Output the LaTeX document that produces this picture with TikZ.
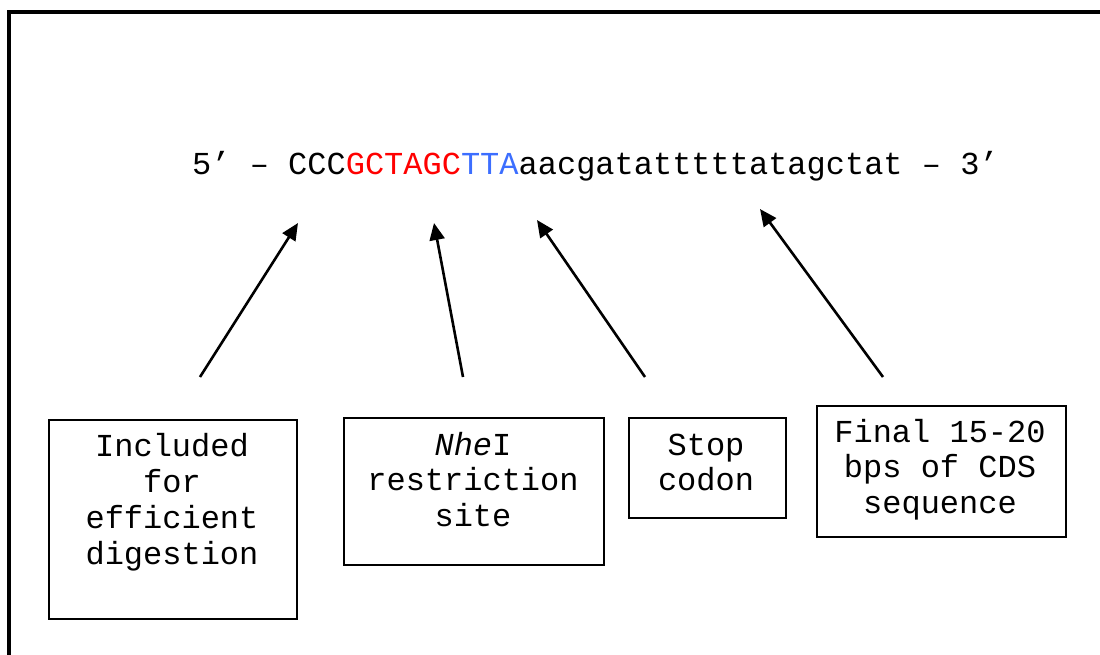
\documentclass[tikz,border=0pt]{standalone}
\usepackage{fontspec}
\setmonofont{Liberation Mono}
\usetikzlibrary{arrows.meta}
\definecolor{seqred}{RGB}{255,0,0}
\definecolor{seqblue}{RGB}{60,110,255}
\tikzset{
  box/.style={draw=black, line width=2pt, rectangle, anchor=north west, inner sep=0pt},
  lbl/.style={font=\ttfamily\fontsize{32}{35.7}\selectfont, align=center, inner sep=0pt, anchor=base},
  seq/.style={font=\ttfamily\fontsize{32}{36}\selectfont, inner sep=0pt, anchor=base west},
  arr/.style={line width=2.6pt, -{Triangle[length=17pt,width=15pt]}},
  frame/.style={line width=4pt}
}
\begin{document}
\begin{tikzpicture}[x=1pt,y=-1pt]
\useasboundingbox (0,0) rectangle (1100,655);
% frame
\coordinate (fa) at (8.5,655);
\coordinate (fb) at (8.5,12.5);
\coordinate (fc) at (1100,12.5);
\draw[frame] (fa) -- (fb) -- (fc);
% sequence
\node[seq] (seq) at (192,175) {5’ – CCC\textcolor{seqred}{GCTAGC}\textcolor{seqblue}{TTA}aacgatatttttatagctat – 3’};
% boxes
\node[box, minimum width=248pt, minimum height=199pt] (b1) at (48,419) {};
\node[box, minimum width=260pt, minimum height=147pt] (b2) at (343,417) {};
\node[box, minimum width=157pt, minimum height=100pt] (b3) at (628,417) {};
\node[box, minimum width=249pt, minimum height=131pt] (b4) at (816,405) {};
% labels (anchored at the baseline of their last line)
\node[lbl] (t1) at (172,564) {Included\\for\\efficient\\digestion};
\node[lbl] (t2) at (473,526.4) {\textit{Nhe}I\\restriction\\site};
\node[lbl] (t3) at (706,490.7) {Stop\\codon};
\node[lbl] (t4) at (940,513.4) {Final 15-20\\bps of CDS\\sequence};
% arrows
\coordinate (s1) at (200,377); \coordinate (e1) at (298,223);
\coordinate (s2) at (463,377); \coordinate (e2) at (434,223);
\coordinate (s3) at (645,377); \coordinate (e3) at (537,220);
\coordinate (s4) at (883,377); \coordinate (e4) at (760,209);
\draw[arr] (s1) -- (e1);
\draw[arr] (s2) -- (e2);
\draw[arr] (s3) -- (e3);
\draw[arr] (s4) -- (e4);
\end{tikzpicture}
\end{document}
